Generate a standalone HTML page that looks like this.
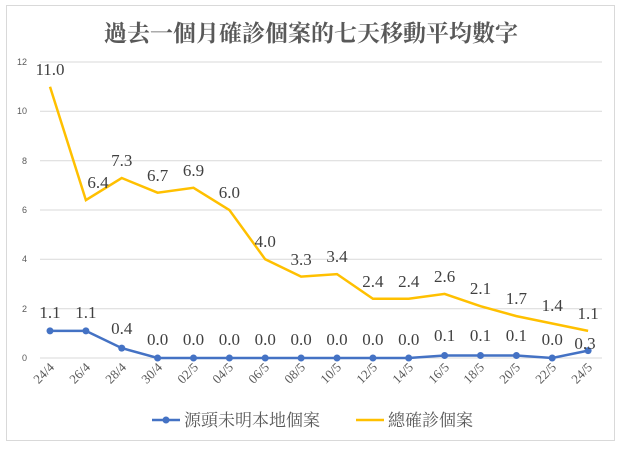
<!DOCTYPE html>
<html><head><meta charset="utf-8"><style>html,body{margin:0;padding:0;background:#fff}</style></head>
<body>
<svg width="622" height="448" xmlns="http://www.w3.org/2000/svg">
<rect x="6.5" y="5.5" width="608" height="435" fill="#fff" stroke="#d9d9d9"/>
<text x="311" y="41" text-anchor="middle" font-family="'Noto Serif CJK SC','Noto Sans CJK TC',serif" font-size="23" font-weight="bold" fill="#595959">過去一個月確診個案的七天移動平均數字</text>
<g stroke="#d9d9d9" stroke-width="1">
<line x1="40" x2="602" y1="62" y2="62"/><line x1="40" x2="602" y1="111.3" y2="111.3"/><line x1="40" x2="602" y1="160.7" y2="160.7"/><line x1="40" x2="602" y1="210" y2="210"/><line x1="40" x2="602" y1="259.3" y2="259.3"/><line x1="40" x2="602" y1="308.7" y2="308.7"/><line x1="40" x2="602" y1="358" y2="358"/>
</g>
<g font-family="'Liberation Sans',sans-serif" font-size="9" fill="#595959" text-anchor="end">
<text x="27" y="65">12</text><text x="27" y="114">10</text><text x="27" y="164">8</text><text x="27" y="213">6</text><text x="27" y="262">4</text><text x="27" y="312">2</text><text x="27" y="361">0</text>
</g>
<polyline fill="none" stroke="#ffc000" stroke-width="2.5" points="50,86.7 85.9,200.1 121.7,178 157.6,192.7 193.5,187.8 229.4,210 265.2,259.3 301.1,276.6 337,274.1 372.9,298.8 408.7,298.8 444.6,293.9 480.5,306.2 516.4,316.1 552.2,323.5 588.1,330.9"/>
<polyline fill="none" stroke="#4472c4" stroke-width="2.5" points="50,330.9 85.9,330.9 121.7,348.1 157.6,358 193.5,358 229.4,358 265.2,358 301.1,358 337,358 372.9,358 408.7,358 444.6,355.5 480.5,355.5 516.4,355.5 552.2,358 588.1,350.6"/>
<g fill="#4472c4">
<circle cx="50" cy="330.9" r="3.5"/><circle cx="85.9" cy="330.9" r="3.5"/><circle cx="121.7" cy="348.1" r="3.5"/><circle cx="157.6" cy="358" r="3.5"/><circle cx="193.5" cy="358" r="3.5"/><circle cx="229.4" cy="358" r="3.5"/><circle cx="265.2" cy="358" r="3.5"/><circle cx="301.1" cy="358" r="3.5"/><circle cx="337" cy="358" r="3.5"/><circle cx="372.9" cy="358" r="3.5"/><circle cx="408.7" cy="358" r="3.5"/><circle cx="444.6" cy="355.5" r="3.5"/><circle cx="480.5" cy="355.5" r="3.5"/><circle cx="516.4" cy="355.5" r="3.5"/><circle cx="552.2" cy="358" r="3.5"/><circle cx="588.1" cy="350.6" r="3.5"/>
</g>
<g font-family="'Liberation Serif',serif" font-size="17" fill="#404040" text-anchor="middle">
<text x="50" y="75">11.0</text><text x="98" y="188">6.4</text><text x="121.7" y="166">7.3</text><text x="157.6" y="181">6.7</text><text x="193.5" y="176">6.9</text><text x="229.4" y="198">6.0</text><text x="265.2" y="247">4.0</text><text x="301.1" y="265">3.3</text><text x="337" y="262">3.4</text><text x="372.9" y="287">2.4</text><text x="408.7" y="287">2.4</text><text x="444.6" y="282">2.6</text><text x="480.5" y="294">2.1</text><text x="516.4" y="304">1.7</text><text x="552.2" y="311">1.4</text><text x="588.1" y="319">1.1</text>
<text x="50" y="318">1.1</text><text x="85.9" y="318">1.1</text><text x="121.7" y="334">0.4</text><text x="157.6" y="345">0.0</text><text x="193.5" y="345">0.0</text><text x="229.4" y="345">0.0</text><text x="265.2" y="345">0.0</text><text x="301.1" y="345">0.0</text><text x="337" y="345">0.0</text><text x="372.9" y="345">0.0</text><text x="408.7" y="345">0.0</text><text x="444.6" y="341">0.1</text><text x="480.5" y="341">0.1</text><text x="516.4" y="341">0.1</text><text x="552.2" y="345">0.0</text><text x="585" y="349">0.3</text>
</g>
<g font-family="'Liberation Serif',serif" font-size="13" fill="#595959" text-anchor="end">
<text transform="translate(55,368) rotate(-45)">24/4</text><text transform="translate(91,368) rotate(-45)">26/4</text><text transform="translate(127,368) rotate(-45)">28/4</text><text transform="translate(163,368) rotate(-45)">30/4</text><text transform="translate(199,368) rotate(-45)">02/5</text><text transform="translate(234,368) rotate(-45)">04/5</text><text transform="translate(270,368) rotate(-45)">06/5</text><text transform="translate(306,368) rotate(-45)">08/5</text><text transform="translate(342,368) rotate(-45)">10/5</text><text transform="translate(378,368) rotate(-45)">12/5</text><text transform="translate(414,368) rotate(-45)">14/5</text><text transform="translate(450,368) rotate(-45)">16/5</text><text transform="translate(485,368) rotate(-45)">18/5</text><text transform="translate(521,368) rotate(-45)">20/5</text><text transform="translate(557,368) rotate(-45)">22/5</text><text transform="translate(593,368) rotate(-45)">24/5</text>
</g>
<line x1="152" x2="180" y1="420" y2="420" stroke="#4472c4" stroke-width="2.5"/><circle cx="166" cy="420" r="3.5" fill="#4472c4"/>
<text x="184" y="426" font-family="'Noto Serif CJK SC','Noto Sans CJK TC',serif" font-size="17" fill="#595959">源頭未明本地個案</text>
<line x1="356" x2="384" y1="420" y2="420" stroke="#ffc000" stroke-width="2.5"/>
<text x="388" y="426" font-family="'Noto Serif CJK SC','Noto Sans CJK TC',serif" font-size="17" fill="#595959">總確診個案</text>
</svg>
</body></html>
